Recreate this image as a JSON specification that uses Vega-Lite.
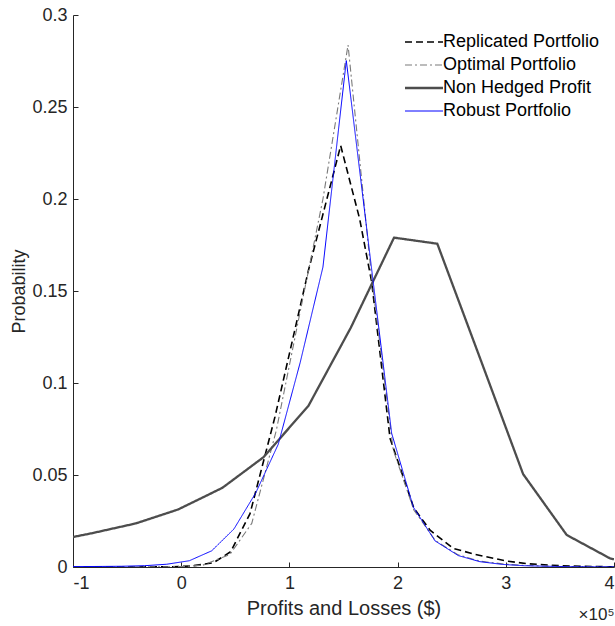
{
  "$schema": "https://vega.github.io/schema/vega-lite/v6.json",
  "width": 541,
  "height": 552,
  "autosize": {"type": "none"},
  "padding": {"left": 73, "top": 15, "right": 1, "bottom": 59},
  "background": "white",
  "config": {
    "view": {"stroke": null},
    "font": "Liberation Sans"
  },
  "title": {
    "text": "×10⁵",
    "orient": "bottom",
    "anchor": "end",
    "fontSize": 17,
    "fontWeight": "normal",
    "color": "#262626",
    "offset": -11
  },
  "data": {
    "values": [
      {"s": "Replicated Portfolio", "x": -1.0, "y": 0.0},
      {"s": "Replicated Portfolio", "x": -0.5, "y": 0.0},
      {"s": "Replicated Portfolio", "x": -0.1, "y": 0.0001},
      {"s": "Replicated Portfolio", "x": 0.1, "y": 0.0006},
      {"s": "Replicated Portfolio", "x": 0.297, "y": 0.0023},
      {"s": "Replicated Portfolio", "x": 0.457, "y": 0.0083},
      {"s": "Replicated Portfolio", "x": 0.636, "y": 0.029},
      {"s": "Replicated Portfolio", "x": 0.867, "y": 0.0817},
      {"s": "Replicated Portfolio", "x": 1.175, "y": 0.161},
      {"s": "Replicated Portfolio", "x": 1.474, "y": 0.229},
      {"s": "Replicated Portfolio", "x": 1.65, "y": 0.189},
      {"s": "Replicated Portfolio", "x": 1.76, "y": 0.155},
      {"s": "Replicated Portfolio", "x": 1.93, "y": 0.07},
      {"s": "Replicated Portfolio", "x": 2.15, "y": 0.032},
      {"s": "Replicated Portfolio", "x": 2.3, "y": 0.02},
      {"s": "Replicated Portfolio", "x": 2.515, "y": 0.0101},
      {"s": "Replicated Portfolio", "x": 2.72, "y": 0.0068},
      {"s": "Replicated Portfolio", "x": 3.0, "y": 0.0033},
      {"s": "Replicated Portfolio", "x": 3.2, "y": 0.0018},
      {"s": "Replicated Portfolio", "x": 3.5, "y": 0.0007},
      {"s": "Replicated Portfolio", "x": 3.8, "y": 0.0003},
      {"s": "Replicated Portfolio", "x": 4.0, "y": 0.0001},

      {"s": "Optimal Portfolio", "x": -1.0, "y": 0.0},
      {"s": "Optimal Portfolio", "x": -0.5, "y": 0.0},
      {"s": "Optimal Portfolio", "x": 0.0, "y": 0.0002},
      {"s": "Optimal Portfolio", "x": 0.2, "y": 0.001},
      {"s": "Optimal Portfolio", "x": 0.45, "y": 0.0068},
      {"s": "Optimal Portfolio", "x": 0.652, "y": 0.0237},
      {"s": "Optimal Portfolio", "x": 0.88, "y": 0.0745},
      {"s": "Optimal Portfolio", "x": 1.09, "y": 0.136},
      {"s": "Optimal Portfolio", "x": 1.31, "y": 0.2},
      {"s": "Optimal Portfolio", "x": 1.542, "y": 0.2837},
      {"s": "Optimal Portfolio", "x": 1.76, "y": 0.157},
      {"s": "Optimal Portfolio", "x": 1.96, "y": 0.0636},
      {"s": "Optimal Portfolio", "x": 2.15, "y": 0.031},
      {"s": "Optimal Portfolio", "x": 2.35, "y": 0.0143},
      {"s": "Optimal Portfolio", "x": 2.56, "y": 0.0066},
      {"s": "Optimal Portfolio", "x": 2.76, "y": 0.0032},
      {"s": "Optimal Portfolio", "x": 3.0, "y": 0.0015},
      {"s": "Optimal Portfolio", "x": 3.2, "y": 0.0008},
      {"s": "Optimal Portfolio", "x": 3.5, "y": 0.0003},
      {"s": "Optimal Portfolio", "x": 4.0, "y": 0.0001},

      {"s": "Non Hedged Profit", "x": -1.0, "y": 0.0163},
      {"s": "Non Hedged Profit", "x": -0.83, "y": 0.0183},
      {"s": "Non Hedged Profit", "x": -0.418, "y": 0.0237},
      {"s": "Non Hedged Profit", "x": -0.027, "y": 0.0313},
      {"s": "Non Hedged Profit", "x": 0.38, "y": 0.043},
      {"s": "Non Hedged Profit", "x": 0.759, "y": 0.0596},
      {"s": "Non Hedged Profit", "x": 1.175, "y": 0.0875},
      {"s": "Non Hedged Profit", "x": 1.567, "y": 0.13},
      {"s": "Non Hedged Profit", "x": 1.967, "y": 0.179},
      {"s": "Non Hedged Profit", "x": 2.367, "y": 0.1757},
      {"s": "Non Hedged Profit", "x": 2.765, "y": 0.113},
      {"s": "Non Hedged Profit", "x": 3.16, "y": 0.0505},
      {"s": "Non Hedged Profit", "x": 3.563, "y": 0.0174},
      {"s": "Non Hedged Profit", "x": 3.963, "y": 0.0047},
      {"s": "Non Hedged Profit", "x": 4.0, "y": 0.0042},

      {"s": "Robust Portfolio", "x": -1.0, "y": 0.0002},
      {"s": "Robust Portfolio", "x": -0.75, "y": 0.0003},
      {"s": "Robust Portfolio", "x": -0.55, "y": 0.0004},
      {"s": "Robust Portfolio", "x": -0.34, "y": 0.0007},
      {"s": "Robust Portfolio", "x": -0.134, "y": 0.0015},
      {"s": "Robust Portfolio", "x": 0.075, "y": 0.0034},
      {"s": "Robust Portfolio", "x": 0.282, "y": 0.0088},
      {"s": "Robust Portfolio", "x": 0.488, "y": 0.0207},
      {"s": "Robust Portfolio", "x": 0.69, "y": 0.0404},
      {"s": "Robust Portfolio", "x": 0.897, "y": 0.0667},
      {"s": "Robust Portfolio", "x": 1.1, "y": 0.1112},
      {"s": "Robust Portfolio", "x": 1.31, "y": 0.163},
      {"s": "Robust Portfolio", "x": 1.526, "y": 0.2752},
      {"s": "Robust Portfolio", "x": 1.735, "y": 0.174},
      {"s": "Robust Portfolio", "x": 1.945, "y": 0.0727},
      {"s": "Robust Portfolio", "x": 2.146, "y": 0.0325},
      {"s": "Robust Portfolio", "x": 2.346, "y": 0.0142},
      {"s": "Robust Portfolio", "x": 2.561, "y": 0.0062},
      {"s": "Robust Portfolio", "x": 2.76, "y": 0.0029},
      {"s": "Robust Portfolio", "x": 2.97, "y": 0.0014},
      {"s": "Robust Portfolio", "x": 3.17, "y": 0.0007},
      {"s": "Robust Portfolio", "x": 3.38, "y": 0.0004},
      {"s": "Robust Portfolio", "x": 3.58, "y": 0.0002},
      {"s": "Robust Portfolio", "x": 3.79, "y": 0.0001},
      {"s": "Robust Portfolio", "x": 4.0, "y": 0.0001}
    ]
  },
  "mark": {"type": "line", "clip": true, "strokeCap": "butt", "strokeJoin": "miter"},
  "encoding": {
    "x": {
      "field": "x",
      "type": "quantitative",
      "scale": {"domain": [-1, 4], "nice": false, "zero": false},
      "axis": {
        "title": "Profits and Losses ($)",
        "values": [-1, 0, 1, 2, 3, 4],
        "labelExpr": "'' + datum.value",
        "grid": false,
        "domainColor": "#262626",
        "tickColor": "#262626",
        "tickSize": -5,
        "labelPadding": 12,
        "labelFontSize": 18,
        "labelColor": "#262626",
        "titleFontSize": 20,
        "titleFontWeight": "normal",
        "titleColor": "#262626",
        "titlePadding": 6
      }
    },
    "y": {
      "field": "y",
      "type": "quantitative",
      "scale": {"domain": [0, 0.3], "nice": false},
      "axis": {
        "title": "Probability",
        "values": [0, 0.05, 0.1, 0.15, 0.2, 0.25, 0.3],
        "labelExpr": "'' + datum.value",
        "grid": false,
        "domainColor": "#262626",
        "tickColor": "#262626",
        "tickSize": -5,
        "labelPadding": 11,
        "labelFontSize": 18,
        "labelColor": "#262626",
        "titleFontSize": 18,
        "titleFontWeight": "normal",
        "titleColor": "#262626",
        "titlePadding": 3
      }
    },
    "color": {
      "field": "s",
      "type": "nominal",
      "title": null,
      "sort": null,
      "scale": {
        "domain": ["Replicated Portfolio", "Optimal Portfolio", "Non Hedged Profit", "Robust Portfolio"],
        "range": ["#000000", "#7a7a7a", "#4d4d4d", "#0000ff"]
      },
      "legend": {
        "orient": "none",
        "legendX": 342,
        "legendY": 18,
        "symbolType": "M-2.5,0H2.5",
        "symbolSize": 231,
        "labelFontSize": 18,
        "labelColor": "#000000",
        "labelOffset": 10,
        "rowPadding": 5,
        "padding": 0
      }
    },
    "strokeDash": {
      "field": "s",
      "type": "nominal",
      "title": null,
      "sort": null,
      "scale": {
        "type": "ordinal",
        "domain": ["Replicated Portfolio", "Optimal Portfolio", "Non Hedged Profit", "Robust Portfolio"],
        "range": [[7, 4], [7, 3, 2, 3], [1, 0], [1, 0]]
      }
    },
    "strokeWidth": {
      "field": "s",
      "type": "nominal",
      "title": null,
      "sort": null,
      "scale": {
        "type": "ordinal",
        "domain": ["Replicated Portfolio", "Optimal Portfolio", "Non Hedged Profit", "Robust Portfolio"],
        "range": [1.6, 1.1, 2.3, 1]
      }
    }
  }
}
